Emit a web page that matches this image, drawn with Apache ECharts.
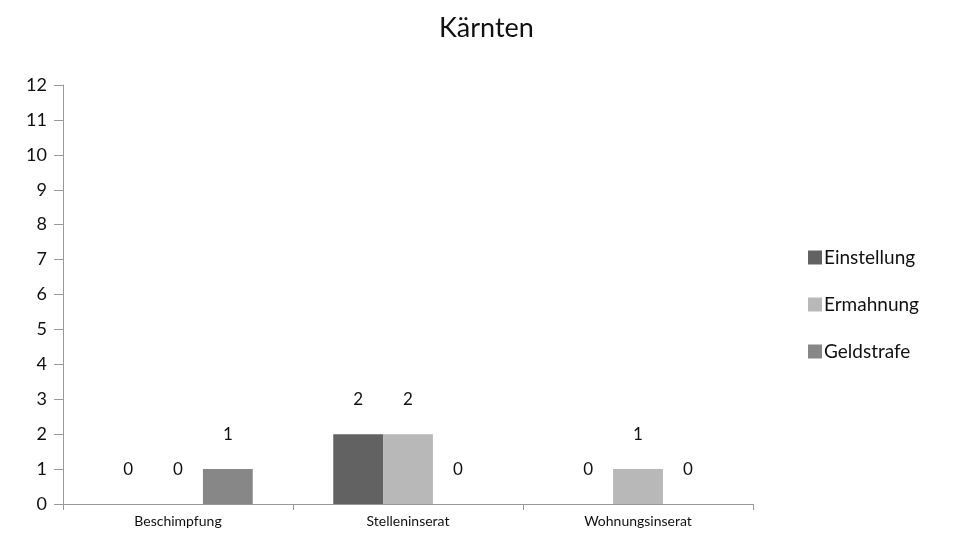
<!DOCTYPE html>
<html>
<head>
<meta charset="utf-8">
<script src="https://cdn.jsdelivr.net/npm/echarts@6/dist/echarts.min.js"></script>
<style>
  html, body { margin: 0; padding: 0; background: #fff; }
  #main { width: 962px; height: 540px; }
</style>
</head>
<body>
<div id="main"></div>
<script>
  var categories = ['Beschimpfung', 'Stelleninserat', 'Wohnungsinserat'];
  var einstellung = [0, 2, 0];
  var ermahnung = [0, 2, 1];
  var geldstrafe = [1, 0, 0];

  var font = 'Lato, "DejaVu Sans", sans-serif';
  var myChart = echarts.init(document.getElementById('main'));

  function bar(name, data, color) {
    return {
      name: name,
      type: 'bar',
      data: data,
      barGap: 0,
      barCategoryGap: '35%',
      itemStyle: { color: color },
      label: {
        show: true,
        position: 'top',
        distance: 26,
        color: '#111',
        fontSize: 17,
        fontFamily: font
      }
    };
  }

  var option = {
    animation: false,
    title: {
      text: 'Kärnten',
      left: 434,
      top: 10,
      textStyle: { fontSize: 27, fontWeight: 'normal', color: '#111', fontFamily: font }
    },
    legend: {
      orient: 'vertical',
      left: 803,
      top: 243,
      itemWidth: 14,
      itemHeight: 14,
      itemGap: 28,
      icon: 'rect',
      textStyle: { fontSize: 19, color: '#111', fontFamily: font, padding: [0, 0, 0, -3] },
      data: ['Einstellung', 'Ermahnung', 'Geldstrafe']
    },
    grid: { left: 63, right: 209, top: 85, bottom: 36 },
    xAxis: {
      type: 'category',
      data: categories,
      axisLine: { lineStyle: { color: '#999' } },
      axisTick: { show: true, length: 6, lineStyle: { color: '#999' } },
      axisLabel: { fontSize: 14, color: '#111', fontFamily: font, margin: 10 }
    },
    yAxis: {
      type: 'value',
      min: 0,
      max: 12,
      interval: 1,
      splitLine: { show: false },
      axisLine: { show: true, lineStyle: { color: '#999' } },
      axisTick: { show: true, length: 9, lineStyle: { color: '#999' } },
      axisLabel: { fontSize: 18, color: '#111', fontFamily: font, margin: 16 }
    },
    series: [
      bar('Einstellung', einstellung, '#626262'),
      bar('Ermahnung', ermahnung, '#b8b8b8'),
      bar('Geldstrafe', geldstrafe, '#878787')
    ]
  };

  myChart.setOption(option);
</script>
</body>
</html>
